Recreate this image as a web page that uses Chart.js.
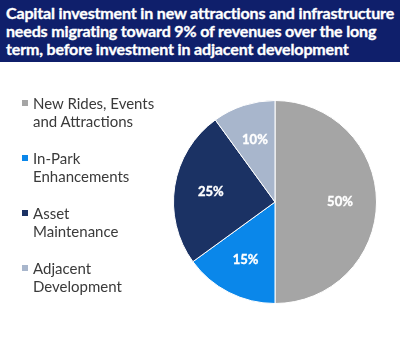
<!DOCTYPE html>
<html lang="en">
<head>
  <meta charset="UTF-8" />
  <title>Capital investment mix</title>
  <script src="https://cdn.jsdelivr.net/npm/chart.js"></script>
  <style>
    body {
      margin: 0;
      width: 400px;
      height: 347px;
      background: #fff;
      font-family: Lato, 'Open Sans', sans-serif;
      position: relative;
      overflow: hidden;
    }

    #titulo {
      position: absolute;
      left: 0;
      top: 0;
      width: 400px;
      height: 62px;
      background: #0f1f6b;
      color: #fff;
      font-weight: 700;
      font-size: 16px;
      line-height: 18px;
      padding: 4px 0 0 6px;
      box-sizing: border-box;
      letter-spacing: -0.15px;
      -webkit-text-stroke: 0.35px #fff;
    }

    #leyenda {
      position: absolute;
      left: 22px;
      top: 94px;
      color: #3a3a3a;
      font-size: 15px;
      line-height: 18px;
    }

    .item {
      position: relative;
      padding-left: 11px;
      height: 55px;
    }

    .item span.cuadro {
      position: absolute;
      left: 0;
      top: 6px;
      width: 6px;
      height: 6px;
    }

    .wrap {
      position: absolute;
      left: 0;
      top: 0;
      width: 400px;
      height: 347px;
    }
  </style>
</head>
<body>
  <div class="wrap"><canvas id="grafico"></canvas></div>
  <div id="titulo">Capital investment in new attractions and infrastructure needs migrating toward 9% of revenues over the long term, before investment in adjacent development</div>
  <div id="leyenda"></div>

  <script>
    const categorias = [
      ['New Rides, Events', 'and Attractions'],
      ['In-Park', 'Enhancements'],
      ['Asset', 'Maintenance'],
      ['Adjacent', 'Development']
    ];
    const porcentajes = [50, 15, 25, 10];
    const colores = ['#a5a5a5', '#0a87ea', '#1b3264', '#a8b6cc'];

    // etiquetas de porcentaje dentro de cada porción
    const etiquetas = {
      id: 'etiquetas',
      afterDatasetsDraw(chart) {
        const ctx = chart.ctx;
        const meta = chart.getDatasetMeta(0);
        ctx.save();
        ctx.fillStyle = '#fff';
        ctx.strokeStyle = '#fff';
        ctx.lineWidth = 0.4;
        ctx.font = 'bold 13px Lato, sans-serif';
        ctx.textAlign = 'center';
        ctx.textBaseline = 'middle';
        meta.data.forEach((arc, i) => {
          const mid = (arc.startAngle + arc.endAngle) / 2;
          const r = arc.outerRadius * 0.64;
          const x = arc.x + Math.cos(mid) * r;
          const y = arc.y + Math.sin(mid) * r;
          ctx.fillText(porcentajes[i] + '%', x, y);
          ctx.strokeText(porcentajes[i] + '%', x, y);
        });
        ctx.restore();
      }
    };

    new Chart(document.getElementById('grafico'), {
      type: 'pie',
      data: {
        labels: categorias.map(c => c.join(' ')),
        datasets: [{
          data: porcentajes,
          backgroundColor: colores,
          borderColor: '#fff',
          borderWidth: 1
        }]
      },
      options: {
        responsive: true,
        maintainAspectRatio: false,
        animation: false,
        layout: {
          padding: { left: 173, right: 23, top: 100, bottom: 43 }
        },
        plugins: {
          legend: { display: false },
          tooltip: { enabled: false }
        }
      },
      plugins: [etiquetas]
    });

    const leyenda = document.getElementById('leyenda');
    categorias.forEach((c, i) => {
      const div = document.createElement('div');
      div.className = 'item';
      div.innerHTML = `<span class="cuadro" style="background:${colores[i]}"></span>${c[0]}<br>${c[1]}`;
      leyenda.appendChild(div);
    });
  </script>
</body>
</html>
